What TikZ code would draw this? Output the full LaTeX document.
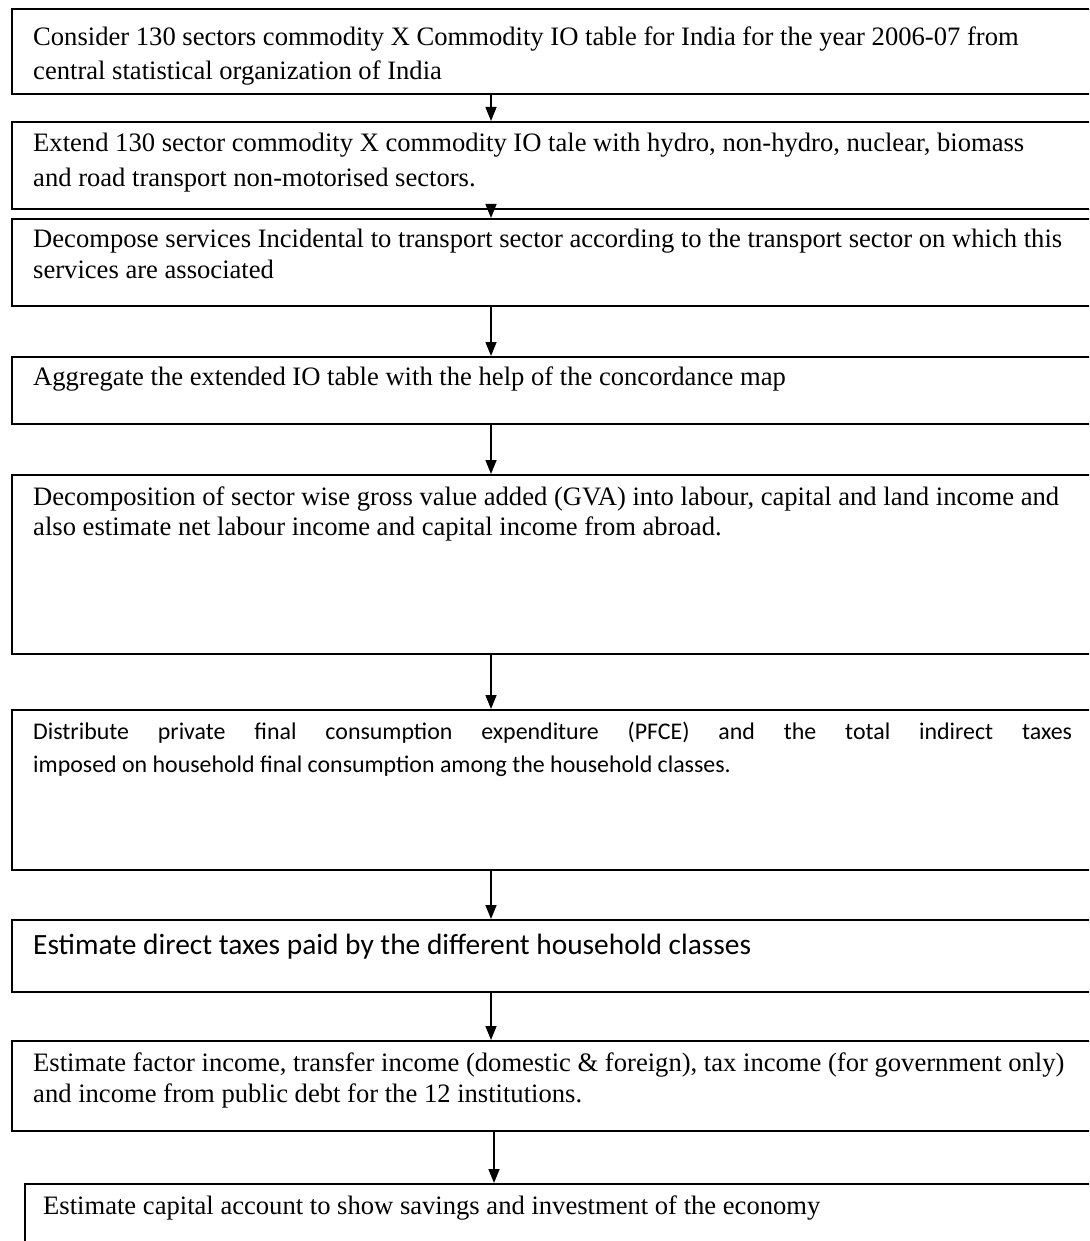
\documentclass[tikz,border=0pt]{standalone}
\usepackage{fontspec}
\setmainfont{Liberation Serif}
\newfontfamily\calfont{Carlito}
\usetikzlibrary{arrows.meta,calc}
\tikzset{
  box/.style={draw=black, line width=2pt, rectangle, inner sep=0pt, anchor=north west, minimum width=1090pt},
  txt/.style={anchor=base west, inner sep=0pt, align=left, font=\fontsize{26.6}{#1}\selectfont},
  txt/.default=34,
  ctxt/.style={anchor=base west, inner sep=0pt, text width=1039pt, align=justify, font=\calfont\fontsize{23.9}{33}\selectfont},
  ktxt/.style={anchor=base west, inner sep=0pt, align=left, font=\calfont\fontsize{29.4}{33}\selectfont},
  arr/.style={line width=1.5pt, -{Triangle[length=14pt,width=11pt]}}
}
\begin{document}
\begin{tikzpicture}[x=1pt,y=-1pt]
\useasboundingbox (0,0) rectangle (1089,1241);
\clip (0,0) rectangle (1089,1241);
\coordinate (ax) at (491,0);
\coordinate (ax2) at (494,0);
% boxes
\node[box, minimum height=85pt] (b1) at (11,8) {};
\node[box, minimum height=87pt] (b2) at (11,121) {};
\node[box, minimum height=87pt] (b3) at (11,218) {};
\node[box, minimum height=67pt] (b4) at (11,356) {};
\node[box, minimum height=179pt] (b5) at (11,474) {};
\node[box, minimum height=160pt] (b6) at (11,709) {};
\node[box, minimum height=72pt] (b7) at (11,919) {};
\node[box, minimum height=90pt] (b8) at (11,1040) {};
\node[box, minimum height=90pt, minimum width=1080pt] (b9) at (24,1183) {};
% texts (anchor = baseline of last line; ctxt: first line)
\node[txt=34] (t1) at (33,80) {Consider 130 sectors commodity X Commodity IO table for India for the year 2006-07 from\\central statistical organization of India};
\node[txt=35] (t2) at (33,187) {Extend 130 sector commodity X commodity IO tale with hydro, non-hydro, nuclear, biomass\\and road transport non-motorised sectors.};
\node[txt=31] (t3) at (33,278) {Decompose services Incidental to transport sector according to the transport sector on which this\\services are associated};
\node[txt] (t4) at (33,385) {Aggregate the extended IO table with the help of the concordance map};
\node[txt=30] (t5) at (33,535) {Decomposition of sector wise gross value added (GVA) into labour, capital and land income and\\also estimate net labour income and capital income from abroad.};
\node[ctxt] (t6) at (33,739) {Distribute private final consumption expenditure (PFCE) and the total indirect taxes\linebreak imposed on household final consumption among the household classes.};
\node[ktxt] (t7) at (33,954) {Estimate direct taxes paid by the different household classes};
\node[txt=31] (t8) at (33,1102) {Estimate factor income, transfer income (domestic \& foreign), tax income (for government only)\\and income from public debt for the 12 institutions.};
\node[txt] (t9) at (43,1214) {Estimate capital account to show savings and investment of the economy};
% arrows
\draw[arr] (b1.south -| ax) -- (b2.north -| ax);
\draw[arr] (b2.south -| ax) -- (b3.north -| ax);
\draw[arr] (b3.south -| ax) -- (b4.north -| ax);
\draw[arr] (b4.south -| ax) -- (b5.north -| ax);
\draw[arr] (b5.south -| ax) -- (b6.north -| ax);
\draw[arr] (b6.south -| ax) -- (b7.north -| ax);
\draw[arr] (b7.south -| ax) -- (b8.north -| ax);
\draw[arr] (b8.south -| ax2) -- (b9.north -| ax2);
\end{tikzpicture}
\end{document}
